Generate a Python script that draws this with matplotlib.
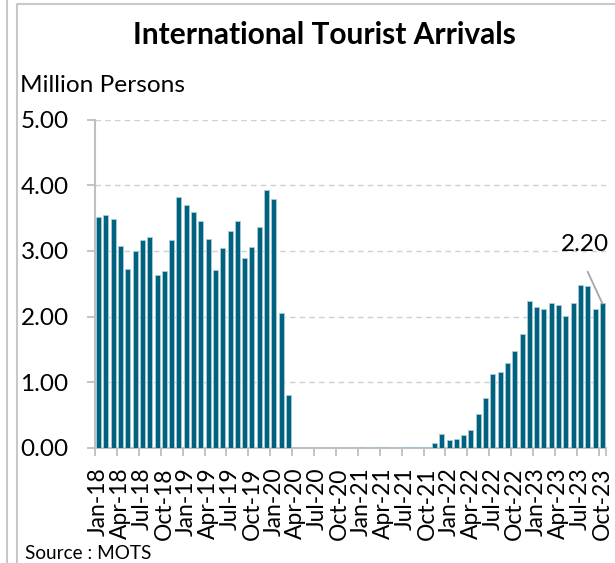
import matplotlib
matplotlib.use("Agg")
import matplotlib.pyplot as plt
from matplotlib.lines import Line2D
import numpy as np

plt.rcParams['font.family'] = ['Lato', 'DejaVu Sans']

months = ['Jan', 'Feb', 'Mar', 'Apr', 'May', 'Jun', 'Jul', 'Aug', 'Sep', 'Oct', 'Nov', 'Dec']
years = ['18', '19', '20', '21', '22', '23']
categories = [f"{m}-{y}" for y in years for m in months][:70]  # Jan-18 .. Oct-23

arrivals = [
    # 2018
    3.51, 3.54, 3.48, 3.08, 2.72, 3.00, 3.16, 3.21, 2.63, 2.69, 3.16, 3.82,
    # 2019
    3.70, 3.59, 3.46, 3.18, 2.71, 3.04, 3.31, 3.45, 2.89, 3.06, 3.37, 3.93,
    # 2020
    3.79, 2.05, 0.81, 0.00, 0.00, 0.00, 0.00, 0.00, 0.00, 0.001, 0.002, 0.007,
    # 2021
    0.011, 0.006, 0.009, 0.008, 0.005, 0.005, 0.018, 0.015, 0.018, 0.022, 0.08, 0.22,
    # 2022
    0.12, 0.14, 0.20, 0.28, 0.52, 0.76, 1.12, 1.16, 1.30, 1.47, 1.74, 2.23,
    # 2023
    2.14, 2.11, 2.21, 2.17, 2.01, 2.21, 2.48, 2.46, 2.12, 2.20,
]
label_value = "2.20"
y_ticks = [0, 1, 2, 3, 4, 5]
title = "International Tourist Arrivals"
y_unit = "Million Persons"
source = "Source : MOTS"

bar_color = '#00627F'
axis_gray = '#BFBFBF'

fig = plt.figure(figsize=(6.15, 5.63), dpi=100)
W, H = 615, 563
ax = fig.add_axes([95 / W, 1 - 448 / H, (606 - 95) / W, (448 - 119.5) / H])

x = np.arange(len(categories))
ax.bar(x, arrivals, width=0.68, color=bar_color, edgecolor='#A9CCD8', linewidth=0.6, zorder=3)

ax.set_xlim(-0.5, len(categories) - 0.5)
ax.set_ylim(0, 5)
ax.set_yticks(y_ticks)
ax.set_yticklabels([f"{v:.2f}" for v in y_ticks], fontsize=17.5)

# x labels every 3 months
lab_idx = list(range(0, len(categories), 3))
ax.set_xticks(lab_idx)
ax.set_xticklabels([categories[i] for i in lab_idx], rotation=90, fontsize=16.5)
ax.tick_params(axis='x', which='major', length=0, pad=14)
ax.set_xticks([i - 0.5 for i in lab_idx] + [len(categories) - 0.5], minor=True)
ax.tick_params(axis='x', which='minor', length=6, width=1.3, color=axis_gray, direction='out')
ax.tick_params(axis='y', length=6, width=1.3, color=axis_gray, pad=13)

ax.grid(axis='y', color='#D0D0D0', linestyle=(0, (4, 3)), linewidth=1.0, zorder=0)
for s in ['top', 'right']:
    ax.spines[s].set_visible(False)
for s in ['left', 'bottom']:
    ax.spines[s].set_color(axis_gray)
    ax.spines[s].set_linewidth(1.5)

# data label for last value with leader line
last = len(categories) - 1
ax.plot([last - 2.0, last], [2.68, arrivals[last]], color='#A6A6A6', linewidth=1.3, zorder=4)
ax.text(last - 2.4, 3.1, label_value, ha='center', va='center', fontsize=17.5)

fig.text(324 / W, 1 - 43.5 / H, title, ha='center', va='baseline', fontsize=21.5, fontweight='bold')
fig.text(20 / W, 1 - 92 / H, y_unit, ha='left', va='baseline', fontsize=17.6)
fig.text(25 / W, 1 - 559 / H, source, ha='left', va='baseline', fontsize=13.7)

# outer frames
fig.add_artist(Line2D([6.5 / W, 6.5 / W], [0, 1], color='#C8C8C8', linewidth=1.5, transform=fig.transFigure))
fig.add_artist(Line2D([16.5 / W, 16.5 / W, 1.0], [0, 1 - 3.5 / H, 1 - 3.5 / H], color='#C8C8C8', linewidth=1.5, transform=fig.transFigure))

fig.savefig('out.png', dpi=100)
